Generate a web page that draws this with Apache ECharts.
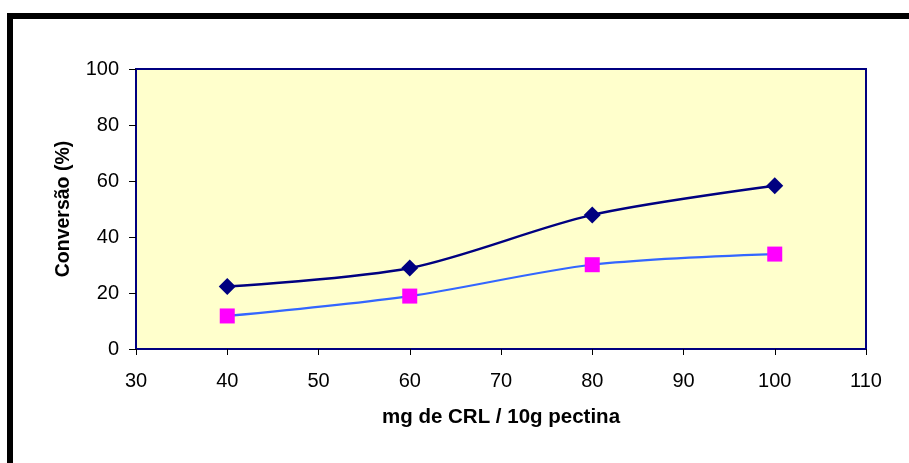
<!DOCTYPE html>
<html>
<head>
<meta charset="utf-8">
<script src="https://cdn.jsdelivr.net/npm/echarts@6/dist/echarts.min.js"></script>
<style>html,body{margin:0;padding:0;background:#fff}#c{width:909px;height:463px}</style>
</head>
<body>
<div id="c"></div>
<script>
var xValues = [40, 60, 80, 100];
var serieA = [22.3, 28.9, 47.9, 58.3];
var serieB = [11.8, 18.9, 30.1, 33.9];
var xTicks = [30, 40, 50, 60, 70, 80, 90, 100, 110];
var yTicks = [0, 20, 40, 60, 80, 100];

function pairs(xs, ys) { return xs.map(function (x, i) { return [x, ys[i]]; }); }

var chart = echarts.init(document.getElementById('c'));
var font = 'Arial, "Liberation Sans", sans-serif';
chart.setOption({
  animation: false,
  grid: { left: 136, top: 69, width: 730, height: 280, show: true, backgroundColor: '#FFFFCC', borderColor: '#000080', borderWidth: 2 },
  graphic: [
    { type: 'rect', shape: { x: 7, y: 13, width: 902, height: 6 }, style: { fill: '#000' } },
    { type: 'rect', shape: { x: 7, y: 13, width: 6, height: 450 }, style: { fill: '#000' } }
  ],
  xAxis: {
    type: 'value', min: xTicks[0], max: xTicks[xTicks.length - 1], interval: 10,
    name: 'mg de CRL / 10g pectina', nameLocation: 'middle', nameGap: 58,
    nameTextStyle: { fontFamily: font, fontSize: 20.5, fontWeight: 'bold', color: '#000' },
    axisLine: { lineStyle: { color: '#000080', width: 2 } },
    axisTick: { show: true, length: 6, lineStyle: { color: '#000', width: 1 } },
    axisLabel: { fontFamily: font, fontSize: 20, color: '#000', margin: 22 },
    splitLine: { show: false }
  },
  yAxis: {
    type: 'value', min: yTicks[0], max: yTicks[yTicks.length - 1], interval: 20,
    name: 'Conversão (%)', nameLocation: 'middle', nameGap: 62,
    nameTextStyle: { fontFamily: font, fontSize: 19.5, fontWeight: 'bold', color: '#000' },
    axisLine: { lineStyle: { color: '#000080', width: 2 } },
    axisTick: { show: true, length: 7, lineStyle: { color: '#000', width: 1 } },
    axisLabel: { fontFamily: font, fontSize: 20, color: '#000', margin: 17 },
    splitLine: { show: false }
  },
  series: [
    {
      type: 'line', data: pairs(xValues, serieA), smooth: 0.3,
      symbol: 'diamond', symbolSize: 17,
      lineStyle: { color: '#000080', width: 2.5 },
      itemStyle: { color: '#000080' }
    },
    {
      type: 'line', data: pairs(xValues, serieB), smooth: 0.3,
      symbol: 'rect', symbolSize: 15,
      lineStyle: { color: '#3366FF', width: 2.2 },
      itemStyle: { color: '#FF00FF' }
    }
  ]
});
</script>
</body>
</html>
